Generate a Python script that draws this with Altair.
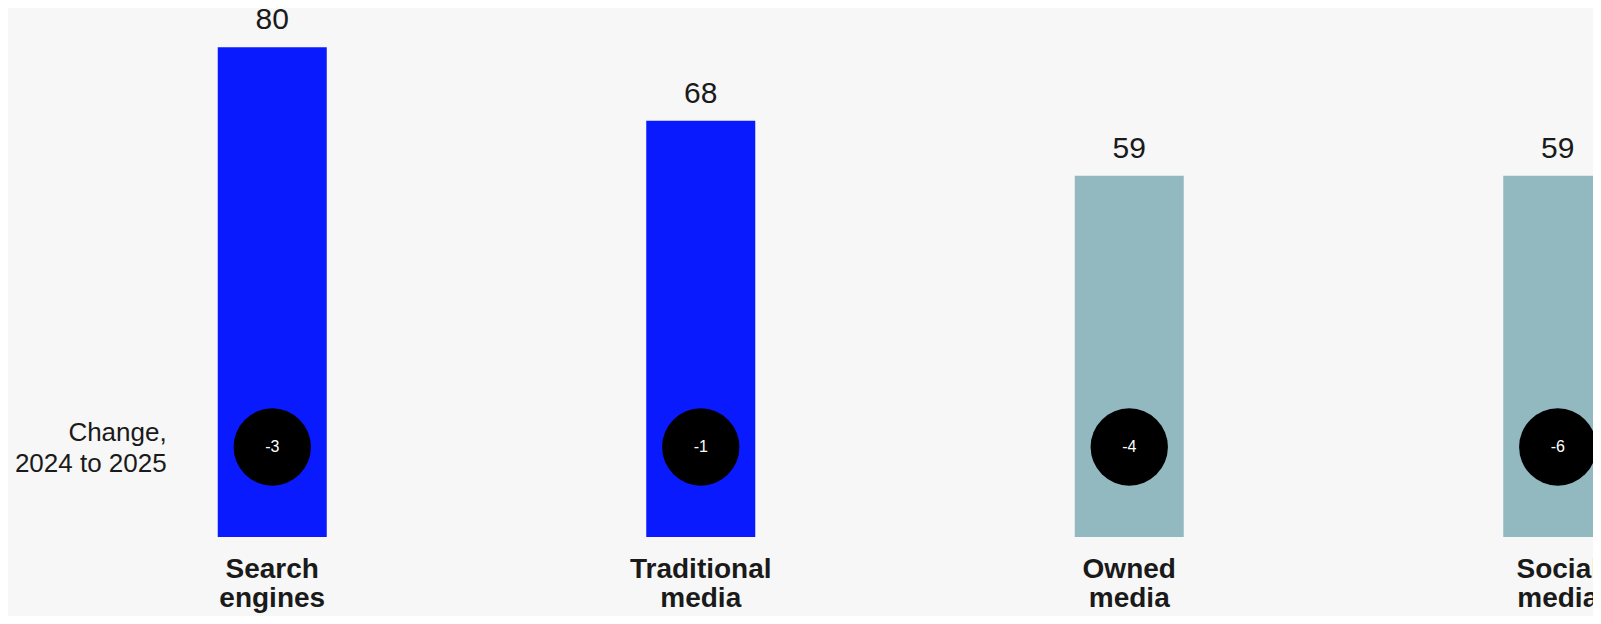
import altair as alt
import pandas as pd

categories = ["Search engines", "Traditional media", "Owned media", "Social media"]
label_lines = ["Search\nengines", "Traditional\nmedia", "Owned\nmedia", "Social\nmedia"]
values = [80, 68, 59, 59]
changes = [-3, -1, -4, -6]
groups = ["highlight", "highlight", "other", "other"]

df = pd.DataFrame({
    "category": categories,
    "label": label_lines,
    "value": values,
    "change": [str(c) for c in changes],
    "group": groups,
})

FONT = "Liberation Sans"
TXT = "#1a1a1a"

x_enc = alt.X("category:N", sort=categories,
              scale=alt.Scale(range=[0, 1714], paddingInner=0, paddingOuter=0),
              axis=None)
y_scale = alt.Scale(domain=[0, 86.4])

base = alt.Chart(df).encode(x=x_enc)

bars = base.mark_bar(width=109).encode(
    y=alt.Y("value:Q", scale=y_scale, axis=None),
    color=alt.Color("group:N",
                    scale=alt.Scale(domain=["highlight", "other"], range=["#0a1aff", "#92b9c0"]),
                    legend=None),
)

value_labels = base.mark_text(dy=-18, fontSize=30, baseline="alphabetic", font=FONT, color=TXT).encode(
    y=alt.Y("value:Q", scale=y_scale, axis=None),
    text="value:Q",
)

circles = base.mark_circle(size=5980, color="black", opacity=1).encode(y=alt.value(439))
circle_text = base.mark_text(color="white", fontSize=16, baseline="middle", font=FONT).encode(
    y=alt.value(439), text="change:N"
)

cat_labels = base.mark_text(fontSize=28, fontWeight="bold", lineBreak="\n", lineHeight=29,
                            baseline="alphabetic", font=FONT, color=TXT).encode(
    y=alt.value(570), text="label:N"
)

side = alt.Chart(pd.DataFrame({"t": ["Change,\n2024 to 2025"]})).mark_text(
    align="right", baseline="alphabetic", fontSize=26, lineBreak="\n", lineHeight=31.5,
    font=FONT, color=TXT
).encode(x=alt.value(108.7), y=alt.value(432.7), text="t:N")

chart = alt.layer(bars, value_labels, circles, circle_text, cat_labels, side).properties(
    width=1535, height=529,
    autosize=alt.AutoSizeParams(type="none"),
    padding={"left": 50, "top": 0, "right": 0, "bottom": 79},
    background="#f7f7f7",
).configure_view(stroke=None)

chart.save("out.html", embed_options={"renderer": "svg", "actions": False})
